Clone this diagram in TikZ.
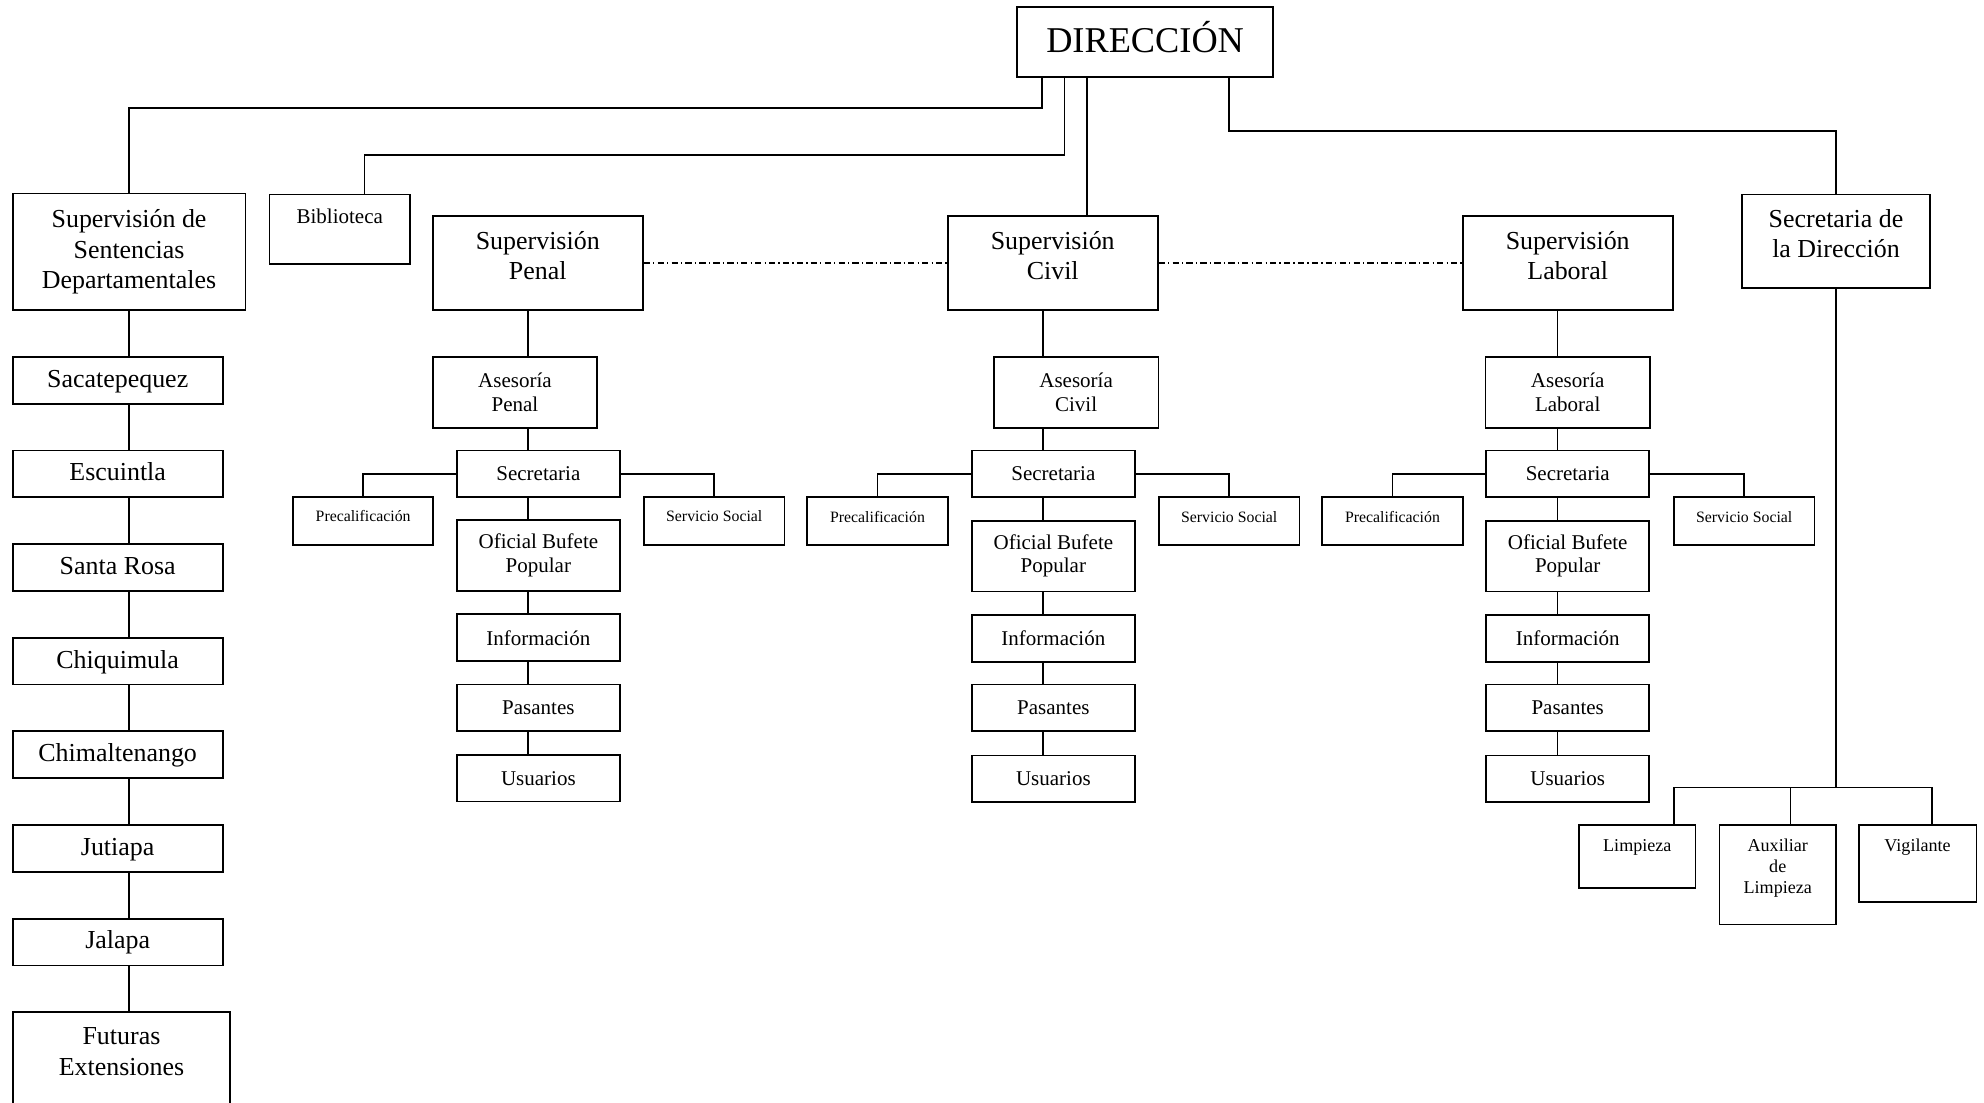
\documentclass[tikz,border=0pt]{standalone}
\usepackage{fontspec}
\setmainfont{Liberation Serif}
\newcommand\toptext[1]{\begin{tabular}[t]{@{}c@{}}#1\end{tabular}}
\begin{document}
\begin{tikzpicture}
	[x=1pt, y=-1pt, line width=1.4pt,
	box/.style={draw, rectangle, inner sep=0pt, align=center},
	bigbox/.style={box, font=\fontsize{20.5}{24}\selectfont},
	midbox/.style={box, font=\fontsize{16.6}{18.5}\selectfont},
	smallbox/.style={box, font=\fontsize{12.5}{14}\selectfont, minimum width=111pt, text height=20pt, text depth=18pt},
	lowbox/.style={box, font=\fontsize{14.3}{16.5}\selectfont, anchor=north, text height=21.3pt},
	supbox/.style={bigbox, minimum width=166pt, text height=26pt, text depth=48pt},
	deptbox/.style={bigbox, minimum width=166pt, text height=24pt, text depth=13pt},
	unitbox/.style={midbox, minimum width=129pt, minimum height=37pt},
	linkline/.style={line width=1.2pt, dash pattern=on 5pt off 2.5pt on 1pt off 2.5pt}
	]
	\useasboundingbox (0,0) rectangle (1568,871);
	\clip (0,0) rectangle (1568,871);

	\node[box, anchor=north, font=\fontsize{28.7}{32}\selectfont, minimum width=202pt, text height=36pt, text depth=19pt] (dir) at (905,5) {DIRECCIÓN};

	\node[bigbox, minimum width=184pt, minimum height=92pt] (sent) at (102,199) {Supervisión de\\Sentencias\\Departamentales};
	\node[midbox, anchor=north, minimum width=111pt, text height=23pt, text depth=32pt] (bib) at (268.5,153) {Biblioteca};
	\node[supbox] (pen) at (425,208) {\toptext{Supervisión\\Penal}};
	\node[supbox] (civ) at (832,208) {\toptext{Supervisión\\Civil}};
	\node[supbox] (lab) at (1239,208) {\toptext{Supervisión\\Laboral}};
	\node[bigbox, anchor=north, minimum width=148pt, text height=26pt, text depth=48pt] (sdir) at (1451,153) {\toptext{Secretaria de\\la Dirección}};

	\node[deptbox] (dsac) at (93,300.5) {Sacatepequez};
	\node[deptbox] (desc) at (93,374.5) {Escuintla};
	\node[deptbox] (dsro) at (93,448.5) {Santa Rosa};
	\node[deptbox] (dchq) at (93,522.5) {Chiquimula};
	\node[deptbox] (dchm) at (93,596.5) {Chimaltenango};
	\node[deptbox] (djut) at (93,670.5) {Jutiapa};
	\node[deptbox] (djal) at (93,744.5) {Jalapa};
	\node[bigbox, anchor=north, minimum width=172pt, text height=26pt, text depth=74pt] (dfut) at (96,799) {\toptext{Futuras\\Extensiones}};

	\node[midbox, minimum width=130pt, minimum height=56pt] (asepen) at (407,310) {Asesoría\\Penal};
	\node[unitbox] (secpen) at (425.5,374.5) {Secretaria};
	\node[unitbox, minimum height=56pt] (ofipen) at (425.5,439) {Oficial Bufete\\Popular};
	\node[unitbox] (infpen) at (425.5,504) {Información};
	\node[unitbox] (paspen) at (425.5,559.5) {Pasantes};
	\node[unitbox] (usupen) at (425.5,615) {Usuarios};
	\node[smallbox] (prepen) at (287,411.5) {Precalificación};
	\node[smallbox] (serpen) at (564.5,411.5) {Servicio Social};

	\node[midbox, minimum width=130pt, minimum height=56pt] (aseciv) at (850.5,310) {Asesoría\\Civil};
	\node[unitbox] (secciv) at (832.5,374.5) {Secretaria};
	\node[unitbox, minimum height=56pt] (oficiv) at (832.5,439.5) {Oficial Bufete\\Popular};
	\node[unitbox] (infciv) at (832.5,504.5) {Información};
	\node[unitbox] (pasciv) at (832.5,559.5) {Pasantes};
	\node[unitbox] (usuciv) at (832.5,615.5) {Usuarios};
	\node[smallbox] (preciv) at (693.5,412) {Precalificación};
	\node[smallbox] (serciv) at (971.5,412) {Servicio Social};

	\node[midbox, minimum width=130pt, minimum height=56pt] (aselab) at (1239,310) {Asesoría\\Laboral};
	\node[unitbox] (seclab) at (1239,374.5) {Secretaria};
	\node[unitbox, minimum height=56pt] (ofilab) at (1239,439.5) {Oficial Bufete\\Popular};
	\node[unitbox] (inflab) at (1239,504.5) {Información};
	\node[unitbox] (paslab) at (1239,559.5) {Pasantes};
	\node[unitbox] (usulab) at (1239,615.5) {Usuarios};
	\node[smallbox] (prelab) at (1100.5,412) {Precalificación};
	\node[smallbox] (serlab) at (1378.5,412) {Servicio Social};

	\node[lowbox, minimum width=92pt, text depth=28.7pt] (limp) at (1294,651) {Limpieza};
	\node[lowbox, minimum width=92pt, text depth=57.7pt] (aux) at (1405,651) {\toptext{Auxiliar\\de\\Limpieza}};
	\node[lowbox, minimum width=93pt, text depth=39.7pt] (vig) at (1515.5,651) {Vigilante};

	\coordinate (dsen) at ([xshift=20pt]dir.south west);
	\coordinate (dbib) at ([xshift=38pt]dir.south west);
	\coordinate (dciv) at ([xshift=56pt]dir.south west);
	\coordinate (dsec) at ([xshift=168pt]dir.south west);
	\draw (dsen) -- ++(0,24) -| (sent.north);
	\draw (dbib) -- ++(0,61) -| ([xshift=19.5pt]bib.north);
	\draw (dciv) -- (dciv |- civ.north);
	\draw (dsec) -- ++(0,42) -| (sdir.north);

	\draw[linkline] (pen.east) -- (civ.west);
	\draw[linkline] (civ.east) -- (lab.west);

	\foreach \a/\b in {sent/dsac, dsac/desc, desc/dsro, dsro/dchq, dchq/dchm, dchm/djut, djut/djal, djal/dfut}
		\draw (sent.south |- \a.south) -- (sent.south |- \b.north);

	\coordinate (penx) at ([xshift=-8pt]pen.south);
	\foreach \a/\b in {pen/asepen, asepen/secpen, secpen/ofipen, ofipen/infpen, infpen/paspen, paspen/usupen}
		\draw (penx |- \a.south) -- (penx |- \b.north);
	\draw (secpen.west) -| (prepen.north);
	\draw (secpen.east) -| (serpen.north);

	\coordinate (civx) at ([xshift=-8pt]civ.south);
	\foreach \a/\b in {civ/aseciv, aseciv/secciv, secciv/oficiv, oficiv/infciv, infciv/pasciv, pasciv/usuciv}
		\draw (civx |- \a.south) -- (civx |- \b.north);
	\draw (secciv.west) -| (preciv.north);
	\draw (secciv.east) -| (serciv.north);

	\coordinate (labx) at ([xshift=-8pt]lab.south);
	\foreach \a/\b in {lab/aselab, aselab/seclab, seclab/ofilab, ofilab/inflab, inflab/paslab, paslab/usulab}
		\draw (labx |- \a.south) -- (labx |- \b.north);
	\draw (seclab.west) -| (prelab.north);
	\draw (seclab.east) -| (serlab.north);

	\coordinate (sjct) at ([yshift=-394pt]sdir.south);
	\draw (sdir.south) -- (sjct);
	\draw ([xshift=29pt]limp.north) |- (sjct) -| ([xshift=11.5pt]vig.north);
	\draw ([xshift=10pt]aux.north) -- ([xshift=10pt]aux.north |- sjct);
\end{tikzpicture}
\end{document}
